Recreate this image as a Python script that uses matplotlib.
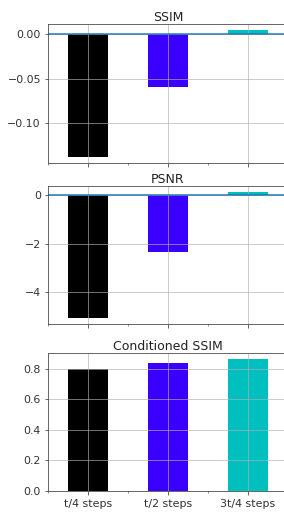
import matplotlib.pyplot as plt
import numpy as np
from matplotlib.ticker import MultipleLocator

# data
labels = ['t/4 steps', 't/2 steps', '3t/4 steps']
ssim_diff = [-0.1375, -0.060, 0.004]
psnr_diff = [-5.05, -2.33, 0.11]
cond_ssim = [0.796, 0.835, 0.861]
colors = ['k', '#3a00ff', 'c']

W, H = 284, 514
fig = plt.figure(figsize=(W / 72, H / 72), dpi=72)

x = np.arange(len(labels))
left = 48 / W
width = 240 / W

def make_ax(top_px, bot_px):
    return fig.add_axes([left, 1 - bot_px / H, width, (bot_px - top_px) / H])

ax1 = make_ax(24, 163)
ax2 = make_ax(186, 324)
ax3 = make_ax(352.7, 490.7)

panels = [(ax1, ssim_diff, 'SSIM'), (ax2, psnr_diff, 'PSNR'), (ax3, cond_ssim, 'Conditioned SSIM')]

for ax, vals, title in panels:
    ax.bar(x, vals, width=0.5, color=colors)
    ax.set_xlim(-0.5, 2.5)
    ax.set_title(title, fontsize=12.5, pad=2, color='#222222')
    ax.grid(True, color='#b0b0b0', linewidth=0.8, alpha=0.8)
    ax.xaxis.set_minor_locator(MultipleLocator(0.5))
    ax.tick_params(axis='both', labelsize=11, length=3.5, color='#444444', labelcolor='#333333')
    ax.tick_params(axis='x', which='minor', length=2, color='#444444')
    ax.tick_params(axis='x', pad=5)
    for s in ax.spines.values():
        s.set_color('#444444')
    ax.set_xticks(x)

ax1.axhline(0, color='#1f77b4', linewidth=1.5)
ax2.axhline(0, color='#1f77b4', linewidth=1.5)
ax1.set_xticklabels([])
ax2.set_xticklabels([])
ax3.set_xticklabels(labels)
ax1.yaxis.set_major_locator(MultipleLocator(0.05))
ax2.yaxis.set_major_locator(MultipleLocator(2))

fig.savefig('out.png', dpi=72)
